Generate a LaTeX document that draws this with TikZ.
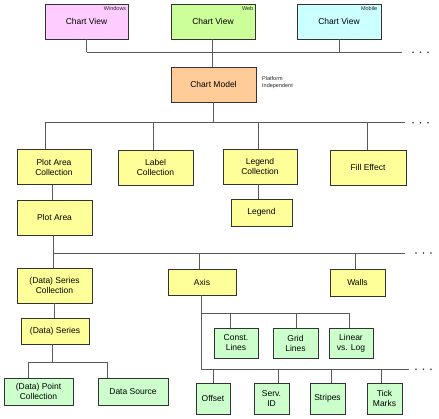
\documentclass[tikz,border=0pt]{standalone}
\usepackage{fontspec}
\setmainfont{Liberation Sans}
\usetikzlibrary{calc}
\begin{document}
\begin{tikzpicture}[x=1pt,y=-1pt,
  box/.style={draw=black!80,line width=0.9pt,align=center,inner sep=0pt,font=\fontsize{8.5}{10}\selectfont},
  pink/.style={box,fill=pinkc},
  lgreen/.style={box,fill=webc},
  cyan/.style={box,fill=mobc},
  peach/.style={box,fill=peachc},
  yel/.style={box,fill=yelc},
  grn/.style={box,fill=grnc},
  sz/.style 2 args={minimum width=#1pt,minimum height=#2pt},
  tag/.style={font=\fontsize{5.5}{6.5}\selectfont,inner sep=0pt,text=black!85},
  conn/.style={draw=black!65,line width=0.9pt},
  dotc/.style={fill=black!80}
]
\definecolor{pinkc}{HTML}{FFCCFF}
\definecolor{webc}{HTML}{CCFF99}
\definecolor{mobc}{HTML}{CCFFFF}
\definecolor{peachc}{HTML}{FFCC99}
\definecolor{yelc}{HTML}{FFFF99}
\definecolor{grnc}{HTML}{CCFFCC}
\useasboundingbox[fill=white] (0,0) rectangle (439,418);

% top row
\node[pink,sz={83}{35}] (win) at (86.5,21.5) {Chart View};
\node[lgreen,sz={84}{35}] (web) at (213,21.5) {Chart View};
\node[cyan,sz={84}{35}] (mob) at (339,21.5) {Chart View};
\node[tag,anchor=north east] (wint) at ($(win.north east)+(-2,3)$) {Windows};
\node[tag,anchor=north east] (webt) at ($(web.north east)+(-2,3)$) {Web};
\node[tag,anchor=north east] (mobt) at ($(mob.north east)+(-4,3)$) {Mobile};

\node[peach,sz={85}{35}] (model) at (213.5,84.5) {Chart Model};
\node[tag,anchor=west,align=left,font=\fontsize{5.5}{7}\selectfont] (plat) at (262,82.5) {Platform\\Independent};

% level 2
\node[yel,sz={74}{35}] (pac) at (54,167) {Plot Area\\Collection};
\node[yel,sz={75}{35}] (lc) at (155.5,167.5) {Label\\Collection};
\node[yel,sz={74}{35}] (legc) at (260,166.5) {Legend\\Collection};
\node[yel,sz={76}{35}] (fill) at (368,167.5) {Fill Effect};
\node[yel,sz={75}{35}] (pa) at (54.5,217.5) {Plot Area};
\node[yel,sz={61}{27}] (leg) at (261.5,212.5) {Legend};

% level 3
\node[yel,sz={75}{35}] (dsc) at (54.5,285.5) {(Data) Series\\Collection};
\node[yel,sz={68}{26}] (axis) at (202,282) {Axis};
\node[yel,sz={55}{27}] (walls) at (357.5,282.5) {Walls};
\node[yel,sz={68}{26}] (ds) at (55,331) {(Data) Series};
\node[grn,sz={69}{27}] (dpc) at (38.5,391.5) {(Data) Point\\Collection};
\node[grn,sz={70}{27}] (dsrc) at (133,391.5) {Data Source};

\node[grn,sz={44}{30}] (const) at (236,343) {Const.\\Lines};
\node[grn,sz={45}{30}] (grid) at (295.5,343) {Grid\\Lines};
\node[grn,sz={44}{30}] (lin) at (351,343) {Linear\\vs. Log};
\node[grn,sz={34}{31}] (off) at (213,398.5) {Offset};
\node[grn,sz={35}{31}] (serv) at (271.5,398.5) {Serv.\\ID};
\node[grn,sz={35}{31}] (str) at (327.5,398.5) {Stripes};
\node[grn,sz={35}{31}] (tick) at (384.5,398.5) {Tick\\Marks};

% bus coordinates
\coordinate (b1L) at (86.5,52.3);
\coordinate (b1R) at (402,52.3);
\coordinate (b2L) at (45,122.7);
\coordinate (b2R) at (405,122.7);
\coordinate (b3L) at (53.3,253);
\coordinate (b3R) at (405,253);
\coordinate (b4L) at (201,313.3);
\coordinate (b4R) at (349,313.3);
\coordinate (b5L) at (201,369.3);
\coordinate (b5R) at (409.3,369.3);
\coordinate (b6L) at (28.3,362.7);
\coordinate (b6R) at (107.7,362.7);

\begin{scope}[conn]
% bus 1
\draw (b1L) -- (b1R);
\draw (win.south) -- (win.south |- b1L);
\draw (mob.south) -- (mob.south |- b1L);
\draw ([xshift=-0.7]web.south) -- ([xshift=-0.7]web.south |- model.north);
% bus 2
\draw (b2L) -- (b2R);
\draw ([xshift=-0.2]model.south) -- ([xshift=-0.2]model.south |- b2L);
\draw (b2L) -- (b2L |- pac.north);
\draw (lc.north -| 153.3,0) -- (153.3,122.7);
\draw (legc.north -| 258.3,0) -- (258.3,122.7);
\draw (fill.north -| 367.7,0) -- (367.7,122.7);
% inner links
\draw (pac.south -| 52.5,0) -- (pa.north -| 52.5,0);
\draw (legc.south -| 258.3,0) -- (leg.north -| 258.3,0);
% bus 3
\draw (b3L) -- (b3R);
\draw (pa.south -| b3L) -- (dsc.north -| b3L);
\draw (axis.north -| 199.3,0) -- (199.3,253);
\draw (walls.north -| 355,0) -- (355,253);
% series
\draw (dsc.south -| 54,0) -- (ds.north -| 54,0);
\draw (ds.south -| 52.7,0) -- (52.7,362.7);
\draw (b6L) -- (b6R);
\draw (b6L) -- (b6L |- dpc.north);
\draw (b6R) -- (b6R |- dsrc.north);
% axis
\draw (axis.south -| b5L) -- (b5L);
\draw (b4L) -- (b4R);
\draw (const.north -| 230.7,0) -- (230.7,313.3);
\draw (grid.north -| 296.3,0) -- (296.3,313.3);
\draw (lin.north -| b4R) -- (b4R);
\draw (b5L) -- (b5R);
\draw (off.north -| 213.3,0) -- (213.3,369.3);
\draw (serv.north -| 278.7,0) -- (278.7,369.3);
\draw (str.north -| 331.3,0) -- (331.3,369.3);
\draw (tick.north -| 381.7,0) -- (381.7,369.3);
\end{scope}

% continuation dots
\foreach \y/\x in {52.3/413, 122.7/413, 253/416, 369.3/416}{
  \fill[dotc] (\x,\y) circle (0.9);
  \fill[dotc] (\x+7.5,\y) circle (0.9);
  \fill[dotc] (\x+15,\y) circle (0.9);
}
\end{tikzpicture}
\end{document}
